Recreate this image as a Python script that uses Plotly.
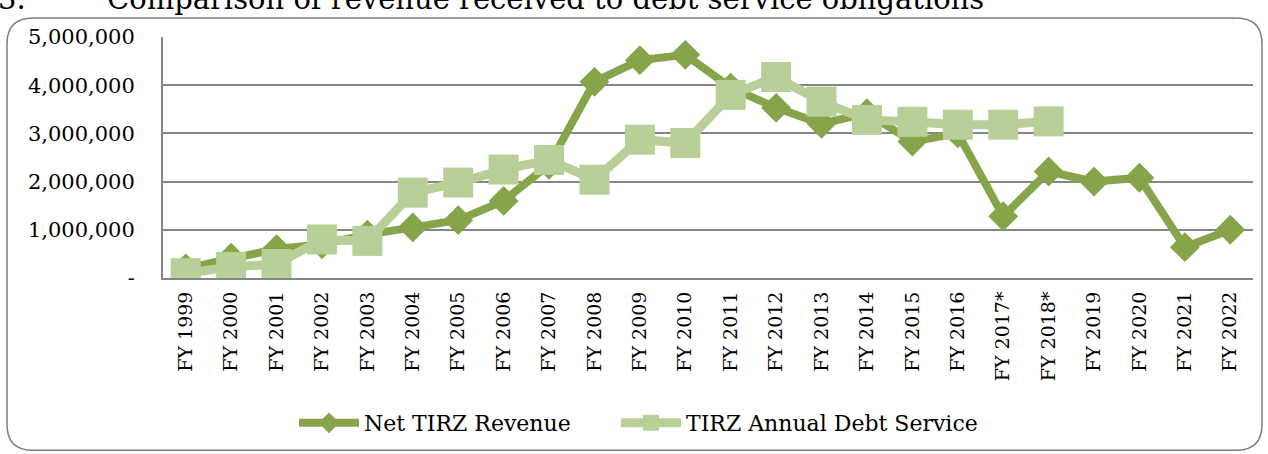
import plotly.graph_objects as go

categories = ["FY 1999", "FY 2000", "FY 2001", "FY 2002", "FY 2003", "FY 2004", "FY 2005",
              "FY 2006", "FY 2007", "FY 2008", "FY 2009", "FY 2010", "FY 2011", "FY 2012",
              "FY 2013", "FY 2014", "FY 2015", "FY 2016", "FY 2017*", "FY 2018*", "FY 2019",
              "FY 2020", "FY 2021", "FY 2022"]
net_revenue = [200000, 420000, 600000, 700000, 900000, 1050000, 1200000, 1600000, 2350000,
               4070000, 4520000, 4630000, 3950000, 3530000, 3200000, 3420000, 2830000,
               3000000, 1280000, 2210000, 2000000, 2080000, 640000, 1000000]
debt_service = [100000, 230000, 290000, 800000, 770000, 1770000, 1980000, 2250000, 2450000,
                2040000, 2870000, 2800000, 3800000, 4170000, 3660000, 3280000, 3240000,
                3180000, 3180000, 3250000, None, None, None, None]
y_tickvals = [0, 1000000, 2000000, 3000000, 4000000, 5000000]
y_ticktext = ["-", "1,000,000", "2,000,000", "3,000,000", "4,000,000", "5,000,000"]

FONT = "DejaVu Serif"
W, H = 1268, 454
L, R, T, B = 163, 1253, 37, 279
PW, PH = R - L, B - T

def px(x):
    return (x - L) / PW

def py(y):
    return (B - y) / PH

fig = go.Figure()
fig.add_trace(go.Scatter(
    x=categories, y=net_revenue, name="Net TIRZ Revenue", mode="lines+markers",
    line=dict(color="#86A54B", width=8),
    marker=dict(symbol="diamond", size=23, color="#86A54B"),
    legend="legend",
))
fig.add_trace(go.Scatter(
    x=categories, y=debt_service, name="TIRZ Annual Debt Service", mode="lines+markers",
    line=dict(color="#B8CF98", width=9),
    marker=dict(symbol="square", size=30, color="#B8CF98"),
    legend="legend2",
))

# rounded border
x0, x1, y0, y1, r = 7, 1262, 18, 452, 26
path = (f"M {px(x0 + r)} {py(y0)} L {px(x1 - r)} {py(y0)} "
        f"Q {px(x1)} {py(y0)} {px(x1)} {py(y0 + r)} L {px(x1)} {py(y1 - r)} "
        f"Q {px(x1)} {py(y1)} {px(x1 - r)} {py(y1)} L {px(x0 + r)} {py(y1)} "
        f"Q {px(x0)} {py(y1)} {px(x0)} {py(y1 - r)} L {px(x0)} {py(y0 + r)} "
        f"Q {px(x0)} {py(y0)} {px(x0 + r)} {py(y0)} Z")

legend_common = dict(orientation="h", y=py(423), xanchor="left", yanchor="middle",
                     font=dict(size=22, family=FONT), itemwidth=60,
                     bgcolor="rgba(0,0,0,0)")

fig.update_layout(
    width=W, height=H,
    margin=dict(l=L, r=W - R, t=T, b=H - B),
    paper_bgcolor="white", plot_bgcolor="white",
    font=dict(family=FONT, color="black"),
    showlegend=True,
    legend=dict(x=px(294), **legend_common),
    legend2=dict(x=px(616), **legend_common),
    xaxis=dict(type="category", showgrid=False, showline=True, linecolor="#868686", linewidth=2,
               tickangle=-90, tickfont=dict(size=19, family=FONT), ticks="", range=[-0.5, 23.5],
               ticklabelstandoff=4),
    yaxis=dict(range=[0, 5000000], tickvals=y_tickvals, ticktext=y_ticktext, showgrid=True,
               gridcolor="#868686", gridwidth=2, showline=True, linecolor="#868686", linewidth=2,
               tickfont=dict(size=21, family=FONT), ticks="", zeroline=False,
               ticklabelstandoff=22),
    shapes=[dict(type="path", xref="paper", yref="paper", path=path,
                 line=dict(color="#7F7F7F", width=1.5), layer="below")],
    annotations=[
        dict(text="3.", xref="paper", yref="paper", x=px(-4), y=py(-1), xanchor="left",
             yanchor="middle", showarrow=False, font=dict(size=29, family=FONT)),
        dict(text="Comparison of revenue received to debt service obligations", xref="paper",
             yref="paper", x=px(105), y=py(-1), xanchor="left", yanchor="middle",
             showarrow=False, font=dict(size=29, family=FONT)),
    ],
)

fig.write_html("out.html")
